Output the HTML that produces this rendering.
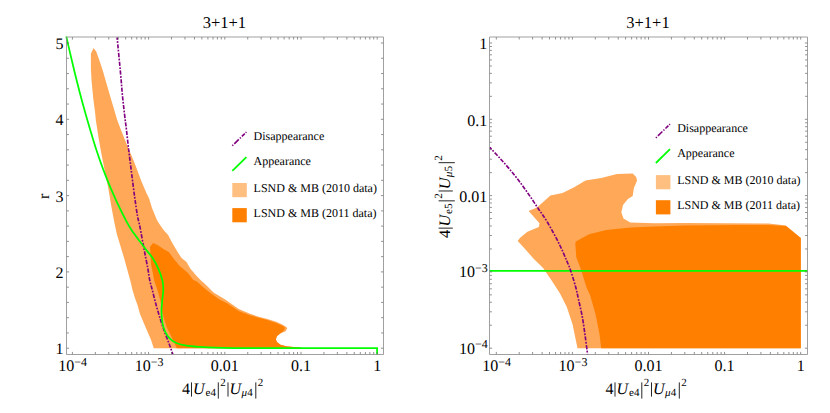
<!DOCTYPE html>
<html><head><meta charset="utf-8"><title>3+1+1</title>
<style>html,body{margin:0;padding:0;background:#fff;width:830px;height:413px;overflow:hidden}</style></head>
<body>
<svg width="830" height="413" viewBox="0 0 830 413" style="position:absolute;left:0;top:0;font-family:'Liberation Serif',serif;fill:#000;text-rendering:geometricPrecision">
<rect width="830" height="413" fill="#fff"/>
<polygon points="93.6,48.1 96.2,51.6 99.1,59.4 102.9,71.0 106.8,84.6 110.7,98.1 114.2,109.7 117.2,120.0 121.0,130.0 125.9,142.3 131.7,155.9 135.5,165.5 141.3,181.0 146.2,192.6 149.1,198.4 152.0,208.1 156.8,219.7 159.4,224.0 163.6,230.0 168.1,234.9 172.0,242.6 177.8,252.3 181.6,258.1 186.5,262.0 190.4,268.8 196.2,275.5 201.0,280.5 205.8,284.8 213.5,292.6 225.2,299.4 238.7,309.0 250.0,313.8 258.7,316.7 267.4,318.9 276.2,321.8 282.7,324.7 286.3,326.9 287.3,328.3 285.6,331.2 279.8,333.7 276.9,336.3 275.9,339.2 276.9,342.1 280.5,344.7 286.3,346.2 293.6,346.9 300.9,347.4 300.9,348.2 153.8,348.2 150.9,339.4 145.8,327.8 140.0,314.0 137.5,305.0 135.1,298.5 132.5,290.0 130.2,280.2 124.2,258.4 116.9,234.2 114.2,221.7 111.3,206.2 108.4,188.7 104.5,169.4 100.7,150.0 98.7,138.4 95.8,120.0 95.2,113.6 93.2,98.1 91.7,82.6 90.9,69.0 90.9,53.6" fill="#FFA858"/>
<polygon points="150.1,246.5 153.2,243.0 158.4,245.5 164.2,249.4 169.1,252.3 173.9,259.1 179.7,265.9 184.6,270.1 188.4,273.6 193.3,280.0 196.9,281.6 203.6,287.4 209.7,292.6 219.4,299.4 227.1,303.2 238.7,311.0 250.0,315.3 258.7,317.7 267.4,320.0 276.2,323.0 282.0,325.4 284.9,327.6 284.1,330.5 279.8,333.7 276.9,336.3 275.9,339.2 276.9,342.1 280.5,344.7 286.3,346.2 293.6,346.9 300.9,347.4 300.9,348.2 176.8,348.2 174.1,342.3 170.5,335.0 166.9,327.8 164.0,319.1 161.8,308.9 160.3,300.2 157.4,290.0 154.2,280.6 152.6,272.0 151.0,263.9 150.1,248.4" fill="#FF8000"/>
<path d="M117.10 37.30 C117.70 43.57 119.82 65.28 120.70 74.90 C121.58 84.52 121.65 87.48 122.40 95.00 C123.15 102.52 124.53 114.28 125.20 120.00 C125.87 125.72 125.82 124.30 126.40 129.30 C126.98 134.30 127.83 142.68 128.70 150.00 C129.57 157.32 130.62 165.45 131.60 173.20 C132.58 180.95 133.62 189.38 134.60 196.50 C135.58 203.62 136.60 210.80 137.50 215.90 C138.40 221.00 138.93 221.68 140.00 227.10 C141.07 232.52 142.62 241.62 143.90 248.40 C145.18 255.18 146.73 262.53 147.70 267.80 C148.67 273.07 148.93 276.30 149.70 280.00 C150.47 283.70 151.25 285.92 152.30 290.00 C153.35 294.08 154.67 299.65 156.00 304.50 C157.33 309.35 158.85 314.50 160.30 319.10 C161.75 323.70 163.23 327.98 164.70 332.10 C166.17 336.22 167.75 340.12 169.10 343.80 C170.45 347.48 172.18 352.47 172.80 354.20" fill="none" stroke="#800080" stroke-width="1.65" stroke-dasharray="4.2 1.4 1.7 1.4" stroke-dashoffset="1.6"/>
<path d="M66.30 36.50 C66.92 39.18 68.65 46.82 70.00 52.60 C71.35 58.38 72.88 64.97 74.40 71.20 C75.92 77.43 77.65 84.37 79.10 90.00 C80.55 95.63 81.48 99.17 83.10 105.00 C84.72 110.83 86.58 117.50 88.80 125.00 C91.02 132.50 94.00 142.60 96.40 150.00 C98.80 157.40 100.78 162.95 103.20 169.40 C105.62 175.85 108.30 182.57 110.90 188.70 C113.50 194.83 116.18 200.70 118.80 206.20 C121.42 211.70 124.48 217.73 126.60 221.70 C128.72 225.67 129.27 226.68 131.50 230.00 C133.73 233.32 137.62 238.37 140.00 241.60 C142.38 244.83 143.70 246.65 145.80 249.40 C147.90 252.15 150.50 254.87 152.60 258.10 C154.70 261.33 156.78 265.15 158.40 268.80 C160.02 272.45 161.48 276.47 162.30 280.00 C163.12 283.53 163.33 286.40 163.30 290.00 C163.27 293.60 162.40 297.97 162.10 301.60 C161.80 305.23 161.43 308.17 161.50 311.80 C161.57 315.43 161.85 320.02 162.50 323.40 C163.15 326.78 164.18 329.55 165.40 332.10 C166.62 334.65 167.98 336.88 169.80 338.70 C171.62 340.52 173.52 341.85 176.30 343.00 C179.08 344.15 182.55 344.95 186.50 345.60 C190.45 346.25 195.25 346.55 200.00 346.90 C204.75 347.25 208.33 347.50 215.00 347.70 C221.67 347.90 235.83 348.03 240.00 348.10 L377.1 348.2 L377.1 354.5" fill="none" stroke="#00FF00" stroke-width="1.75" stroke-linejoin="miter"/>
<g stroke="#555" stroke-width="0.65" fill="none"><path d="M72.40 354.5 v-2.6 M72.40 37 v2.6"/><path d="M95.34 354.5 v-2.5 M95.34 37 v2.5"/><path d="M108.76 354.5 v-2.5 M108.76 37 v2.5"/><path d="M118.28 354.5 v-2.5 M118.28 37 v2.5"/><path d="M125.66 354.5 v-2.5 M125.66 37 v2.5"/><path d="M131.70 354.5 v-2.5 M131.70 37 v2.5"/><path d="M136.80 354.5 v-2.5 M136.80 37 v2.5"/><path d="M141.22 354.5 v-2.5 M141.22 37 v2.5"/><path d="M145.11 354.5 v-2.5 M145.11 37 v2.5"/><path d="M148.60 354.5 v-2.6 M148.60 37 v2.6"/><path d="M171.54 354.5 v-2.5 M171.54 37 v2.5"/><path d="M184.96 354.5 v-2.5 M184.96 37 v2.5"/><path d="M194.48 354.5 v-2.5 M194.48 37 v2.5"/><path d="M201.86 354.5 v-2.5 M201.86 37 v2.5"/><path d="M207.90 354.5 v-2.5 M207.90 37 v2.5"/><path d="M213.00 354.5 v-2.5 M213.00 37 v2.5"/><path d="M217.42 354.5 v-2.5 M217.42 37 v2.5"/><path d="M221.31 354.5 v-2.5 M221.31 37 v2.5"/><path d="M224.80 354.5 v-2.6 M224.80 37 v2.6"/><path d="M247.74 354.5 v-2.5 M247.74 37 v2.5"/><path d="M261.16 354.5 v-2.5 M261.16 37 v2.5"/><path d="M270.68 354.5 v-2.5 M270.68 37 v2.5"/><path d="M278.06 354.5 v-2.5 M278.06 37 v2.5"/><path d="M284.10 354.5 v-2.5 M284.10 37 v2.5"/><path d="M289.20 354.5 v-2.5 M289.20 37 v2.5"/><path d="M293.62 354.5 v-2.5 M293.62 37 v2.5"/><path d="M297.51 354.5 v-2.5 M297.51 37 v2.5"/><path d="M301.00 354.5 v-2.6 M301.00 37 v2.6"/><path d="M323.94 354.5 v-2.5 M323.94 37 v2.5"/><path d="M337.36 354.5 v-2.5 M337.36 37 v2.5"/><path d="M346.88 354.5 v-2.5 M346.88 37 v2.5"/><path d="M354.26 354.5 v-2.5 M354.26 37 v2.5"/><path d="M360.30 354.5 v-2.5 M360.30 37 v2.5"/><path d="M365.40 354.5 v-2.5 M365.40 37 v2.5"/><path d="M369.82 354.5 v-2.5 M369.82 37 v2.5"/><path d="M373.71 354.5 v-2.5 M373.71 37 v2.5"/><path d="M377.20 354.5 v-2.6 M377.20 37 v2.6"/><path d="M66.5 348.20 h2.6 M383.5 348.20 h-2.6"/><path d="M66.5 271.90 h2.6 M383.5 271.90 h-2.6"/><path d="M66.5 195.60 h2.6 M383.5 195.60 h-2.6"/><path d="M66.5 119.30 h2.6 M383.5 119.30 h-2.6"/><path d="M66.5 43.00 h2.6 M383.5 43.00 h-2.6"/><path d="M66.5 332.94 h2.4 M383.5 332.94 h-2.4"/><path d="M66.5 317.68 h2.4 M383.5 317.68 h-2.4"/><path d="M66.5 302.42 h2.4 M383.5 302.42 h-2.4"/><path d="M66.5 287.16 h2.4 M383.5 287.16 h-2.4"/><path d="M66.5 256.64 h2.4 M383.5 256.64 h-2.4"/><path d="M66.5 241.38 h2.4 M383.5 241.38 h-2.4"/><path d="M66.5 226.12 h2.4 M383.5 226.12 h-2.4"/><path d="M66.5 210.86 h2.4 M383.5 210.86 h-2.4"/><path d="M66.5 180.34 h2.4 M383.5 180.34 h-2.4"/><path d="M66.5 165.08 h2.4 M383.5 165.08 h-2.4"/><path d="M66.5 149.82 h2.4 M383.5 149.82 h-2.4"/><path d="M66.5 134.56 h2.4 M383.5 134.56 h-2.4"/><path d="M66.5 104.04 h2.4 M383.5 104.04 h-2.4"/><path d="M66.5 88.78 h2.4 M383.5 88.78 h-2.4"/><path d="M66.5 73.52 h2.4 M383.5 73.52 h-2.4"/><path d="M66.5 58.26 h2.4 M383.5 58.26 h-2.4"/></g>
<path d="M66.5 37 H383.5 V354.5 H66.5 Z" fill="none" stroke="#888" stroke-width="0.8"/>
<polygon points="528.6,211.1 537.0,207.5 550.4,195.4 562.5,193.0 574.6,186.9 585.5,180.4 601.2,178.0 617.0,174.1 632.7,173.6 636.3,177.2 637.0,180.8 633.9,188.1 632.7,195.9 627.9,199.0 623.0,205.1 621.3,212.3 623.5,218.4 630.3,222.5 654.5,223.2 685.0,222.9 768.5,223.6 785.9,225.5 800.8,238.1 800.8,348.2 577.5,348.2 572.6,324.6 566.8,307.1 560.0,293.6 551.3,280.0 543.1,268.1 533.4,258.4 523.7,247.5 517.7,241.0 520.1,237.8 527.4,231.8 538.8,227.0 539.5,223.3" fill="#FFA858"/>
<polygon points="575.8,241.5 589.1,234.2 606.1,229.9 630.3,227.4 654.5,226.5 685.0,225.5 737.5,225.0 768.5,225.0 785.9,226.1 800.8,238.1 800.8,348.2 601.2,348.2 599.5,334.2 595.7,314.9 590.2,295.5 586.5,287.5 584.2,280.0 581.3,270.5 576.3,257.2 575.3,243.9" fill="#FF8000"/>
<path d="M489.5 270.8 H807.5" fill="none" stroke="#00FF00" stroke-width="1.85"/>
<path d="M489.80 147.40 C491.42 149.13 496.27 154.25 499.50 157.80 C502.73 161.35 505.97 164.87 509.20 168.70 C512.43 172.53 515.67 176.55 518.90 180.80 C522.13 185.05 525.38 189.58 528.60 194.20 C531.82 198.82 535.03 203.78 538.20 208.50 C541.37 213.22 544.10 216.60 547.60 222.50 C551.10 228.40 556.02 237.52 559.20 243.90 C562.38 250.28 564.80 256.37 566.70 260.80 C568.60 265.23 569.08 266.05 570.60 270.50 C572.12 274.95 574.48 282.68 575.80 287.50 C577.12 292.32 577.42 294.52 578.50 299.40 C579.58 304.28 581.18 310.67 582.30 316.80 C583.42 322.93 584.32 329.90 585.20 336.20 C586.08 342.50 587.20 351.53 587.60 354.60" fill="none" stroke="#800080" stroke-width="1.65" stroke-dasharray="4.2 1.4 1.7 1.4" stroke-dashoffset="1.6"/>
<g stroke="#555" stroke-width="0.65" fill="none"><path d="M496.30 354.5 v-2.6 M496.30 37 v2.6"/><path d="M519.21 354.5 v-2.5 M519.21 37 v2.5"/><path d="M532.61 354.5 v-2.5 M532.61 37 v2.5"/><path d="M542.12 354.5 v-2.5 M542.12 37 v2.5"/><path d="M549.49 354.5 v-2.5 M549.49 37 v2.5"/><path d="M555.52 354.5 v-2.5 M555.52 37 v2.5"/><path d="M560.61 354.5 v-2.5 M560.61 37 v2.5"/><path d="M565.03 354.5 v-2.5 M565.03 37 v2.5"/><path d="M568.92 354.5 v-2.5 M568.92 37 v2.5"/><path d="M572.40 354.5 v-2.6 M572.40 37 v2.6"/><path d="M595.31 354.5 v-2.5 M595.31 37 v2.5"/><path d="M608.71 354.5 v-2.5 M608.71 37 v2.5"/><path d="M618.22 354.5 v-2.5 M618.22 37 v2.5"/><path d="M625.59 354.5 v-2.5 M625.59 37 v2.5"/><path d="M631.62 354.5 v-2.5 M631.62 37 v2.5"/><path d="M636.71 354.5 v-2.5 M636.71 37 v2.5"/><path d="M641.13 354.5 v-2.5 M641.13 37 v2.5"/><path d="M645.02 354.5 v-2.5 M645.02 37 v2.5"/><path d="M648.50 354.5 v-2.6 M648.50 37 v2.6"/><path d="M671.41 354.5 v-2.5 M671.41 37 v2.5"/><path d="M684.81 354.5 v-2.5 M684.81 37 v2.5"/><path d="M694.32 354.5 v-2.5 M694.32 37 v2.5"/><path d="M701.69 354.5 v-2.5 M701.69 37 v2.5"/><path d="M707.72 354.5 v-2.5 M707.72 37 v2.5"/><path d="M712.81 354.5 v-2.5 M712.81 37 v2.5"/><path d="M717.23 354.5 v-2.5 M717.23 37 v2.5"/><path d="M721.12 354.5 v-2.5 M721.12 37 v2.5"/><path d="M724.60 354.5 v-2.6 M724.60 37 v2.6"/><path d="M747.51 354.5 v-2.5 M747.51 37 v2.5"/><path d="M760.91 354.5 v-2.5 M760.91 37 v2.5"/><path d="M770.42 354.5 v-2.5 M770.42 37 v2.5"/><path d="M777.79 354.5 v-2.5 M777.79 37 v2.5"/><path d="M783.82 354.5 v-2.5 M783.82 37 v2.5"/><path d="M788.91 354.5 v-2.5 M788.91 37 v2.5"/><path d="M793.33 354.5 v-2.5 M793.33 37 v2.5"/><path d="M797.22 354.5 v-2.5 M797.22 37 v2.5"/><path d="M800.70 354.5 v-2.6 M800.70 37 v2.6"/><path d="M489.5 348.20 h2.6 M807.5 348.20 h-2.6"/><path d="M489.5 271.90 h2.6 M807.5 271.90 h-2.6"/><path d="M489.5 195.60 h2.6 M807.5 195.60 h-2.6"/><path d="M489.5 119.30 h2.6 M807.5 119.30 h-2.6"/><path d="M489.5 43.00 h2.6 M807.5 43.00 h-2.6"/><path d="M489.5 325.23 h2.4 M807.5 325.23 h-2.4"/><path d="M489.5 311.80 h2.4 M807.5 311.80 h-2.4"/><path d="M489.5 302.26 h2.4 M807.5 302.26 h-2.4"/><path d="M489.5 294.87 h2.4 M807.5 294.87 h-2.4"/><path d="M489.5 288.83 h2.4 M807.5 288.83 h-2.4"/><path d="M489.5 283.72 h2.4 M807.5 283.72 h-2.4"/><path d="M489.5 279.29 h2.4 M807.5 279.29 h-2.4"/><path d="M489.5 275.39 h2.4 M807.5 275.39 h-2.4"/><path d="M489.5 248.93 h2.4 M807.5 248.93 h-2.4"/><path d="M489.5 235.50 h2.4 M807.5 235.50 h-2.4"/><path d="M489.5 225.96 h2.4 M807.5 225.96 h-2.4"/><path d="M489.5 218.57 h2.4 M807.5 218.57 h-2.4"/><path d="M489.5 212.53 h2.4 M807.5 212.53 h-2.4"/><path d="M489.5 207.42 h2.4 M807.5 207.42 h-2.4"/><path d="M489.5 202.99 h2.4 M807.5 202.99 h-2.4"/><path d="M489.5 199.09 h2.4 M807.5 199.09 h-2.4"/><path d="M489.5 172.63 h2.4 M807.5 172.63 h-2.4"/><path d="M489.5 159.20 h2.4 M807.5 159.20 h-2.4"/><path d="M489.5 149.66 h2.4 M807.5 149.66 h-2.4"/><path d="M489.5 142.27 h2.4 M807.5 142.27 h-2.4"/><path d="M489.5 136.23 h2.4 M807.5 136.23 h-2.4"/><path d="M489.5 131.12 h2.4 M807.5 131.12 h-2.4"/><path d="M489.5 126.69 h2.4 M807.5 126.69 h-2.4"/><path d="M489.5 122.79 h2.4 M807.5 122.79 h-2.4"/><path d="M489.5 96.33 h2.4 M807.5 96.33 h-2.4"/><path d="M489.5 82.90 h2.4 M807.5 82.90 h-2.4"/><path d="M489.5 73.36 h2.4 M807.5 73.36 h-2.4"/><path d="M489.5 65.97 h2.4 M807.5 65.97 h-2.4"/><path d="M489.5 59.93 h2.4 M807.5 59.93 h-2.4"/><path d="M489.5 54.82 h2.4 M807.5 54.82 h-2.4"/><path d="M489.5 50.39 h2.4 M807.5 50.39 h-2.4"/><path d="M489.5 46.49 h2.4 M807.5 46.49 h-2.4"/></g>
<path d="M489.5 37 H807.5 V354.5 H489.5 Z" fill="none" stroke="#888" stroke-width="0.8"/>
<text x="224.4" y="27.7" font-size="16.5" text-anchor="middle">3+1+1</text>
<text x="648" y="27.7" font-size="16.5" text-anchor="middle">3+1+1</text>
<text x="63.6" y="354.3" font-size="16" text-anchor="end">1</text>
<text x="63.6" y="278.0" font-size="16" text-anchor="end">2</text>
<text x="63.6" y="201.7" font-size="16" text-anchor="end">3</text>
<text x="63.6" y="125.4" font-size="16" text-anchor="end">4</text>
<text x="63.6" y="49.1" font-size="16" text-anchor="end">5</text>
<text x="72.7" y="371.2" font-size="16" text-anchor="middle">10<tspan font-size="12" dy="-5.3">−4</tspan></text>
<text x="149.2" y="371.2" font-size="16" text-anchor="middle">10<tspan font-size="12" dy="-5.3">−3</tspan></text>
<text x="224.8" y="371.2" font-size="16" text-anchor="middle">0.01</text>
<text x="301.0" y="371.2" font-size="16" text-anchor="middle">0.1</text>
<text x="377.2" y="371.2" font-size="16" text-anchor="middle">1</text>
<text x="496.6" y="371.2" font-size="16" text-anchor="middle">10<tspan font-size="12" dy="-5.3">−4</tspan></text>
<text x="573.0" y="371.2" font-size="16" text-anchor="middle">10<tspan font-size="12" dy="-5.3">−3</tspan></text>
<text x="648.5" y="371.2" font-size="16" text-anchor="middle">0.01</text>
<text x="724.6" y="371.2" font-size="16" text-anchor="middle">0.1</text>
<text x="800.7" y="371.2" font-size="16" text-anchor="middle">1</text>
<text x="487.3" y="49.2" font-size="16" text-anchor="end">1</text>
<text x="487.3" y="125.5" font-size="16" text-anchor="end">0.1</text>
<text x="487.3" y="201.8" font-size="16" text-anchor="end">0.01</text>
<text x="487.8" y="277.4" font-size="16" text-anchor="end">10<tspan font-size="12" dy="-5.3">−3</tspan></text>
<text x="487.8" y="353.7" font-size="16" text-anchor="end">10<tspan font-size="12" dy="-5.3">−4</tspan></text>
<g><text x="181.9" y="394.1" font-size="16">4</text><text x="193.0" y="394.1" font-size="16" font-style="italic">U</text><text x="205.5" y="396.2" font-size="11">e4</text><text x="220.3" y="386.3" font-size="11">2</text><text x="229.6" y="394.1" font-size="16" font-style="italic">U</text><text x="241.6" y="396.2" font-size="11"><tspan font-style="italic">μ</tspan>4</text><text x="257.7" y="386.3" font-size="11">2</text><path d="M191.5 382.4 V396.6 M218.3 382.4 V398.6 M228 382.4 V396.6 M255.8 382.4 V398.6" stroke="#1a1a1a" stroke-width="0.95" fill="none"/></g>
<g transform="translate(423.5,0)"><text x="181.9" y="394.1" font-size="16">4</text><text x="193.0" y="394.1" font-size="16" font-style="italic">U</text><text x="205.5" y="396.2" font-size="11">e4</text><text x="220.3" y="386.3" font-size="11">2</text><text x="229.6" y="394.1" font-size="16" font-style="italic">U</text><text x="241.6" y="396.2" font-size="11"><tspan font-style="italic">μ</tspan>4</text><text x="257.7" y="386.3" font-size="11">2</text><path d="M191.5 382.4 V396.6 M218.3 382.4 V398.6 M228 382.4 V396.6 M255.8 382.4 V398.6" stroke="#1a1a1a" stroke-width="0.95" fill="none"/></g>
<g transform="translate(450.3,237.6) rotate(-90) scale(1.018,1) translate(-182.2,-394.1)"><text x="181.9" y="394.1" font-size="16">4</text><text x="193.0" y="394.1" font-size="16" font-style="italic">U</text><text x="205.5" y="396.2" font-size="11">e5</text><text x="220.3" y="386.3" font-size="11">2</text><text x="229.6" y="394.1" font-size="16" font-style="italic">U</text><text x="241.6" y="396.2" font-size="11"><tspan font-style="italic">μ</tspan>5</text><text x="257.7" y="386.3" font-size="11">2</text><path d="M191.5 382.4 V396.6 M218.3 382.4 V398.6 M228 382.4 V396.6 M255.8 382.4 V398.6" stroke="#1a1a1a" stroke-width="0.95" fill="none"/></g>
<text transform="translate(48.8,199) rotate(-90)" font-size="16">r</text>
<path d="M232.3 145.8 L246.4 132.0" stroke="#800080" stroke-width="1.6" stroke-dasharray="1.3 1.5 6.3 1.5 1.3 1.5 4.1 1.2 1.3 10" fill="none"/><path d="M232.3 170.9 L246.4 157.1" stroke="#00FF00" stroke-width="1.8" fill="none"/><rect x="232.3" y="183.0" width="14.5" height="14.2" fill="#FFBF80"/><rect x="232.3" y="208.1" width="14.5" height="14.2" fill="#FF8000"/><text x="253.6" y="140.0" font-size="12">Disappearance</text><text x="253.6" y="165.3" font-size="12">Appearance</text><text x="253.6" y="191.9" font-size="12">LSND &amp; MB (2010 data)</text><text x="253.6" y="217.2" font-size="12">LSND &amp; MB (2011 data)</text>
<path d="M655.9 137.9 L670.0 124.1" stroke="#800080" stroke-width="1.6" stroke-dasharray="1.3 1.5 6.3 1.5 1.3 1.5 4.1 1.2 1.3 10" fill="none"/><path d="M655.9 163.0 L670.0 149.2" stroke="#00FF00" stroke-width="1.8" fill="none"/><rect x="655.9" y="175.1" width="14.5" height="14.2" fill="#FFBF80"/><rect x="655.9" y="200.2" width="14.5" height="14.2" fill="#FF8000"/><text x="677.2" y="132.1" font-size="12">Disappearance</text><text x="677.2" y="157.4" font-size="12">Appearance</text><text x="677.2" y="184.0" font-size="12">LSND &amp; MB (2010 data)</text><text x="677.2" y="209.3" font-size="12">LSND &amp; MB (2011 data)</text>
</svg>
</body></html>
